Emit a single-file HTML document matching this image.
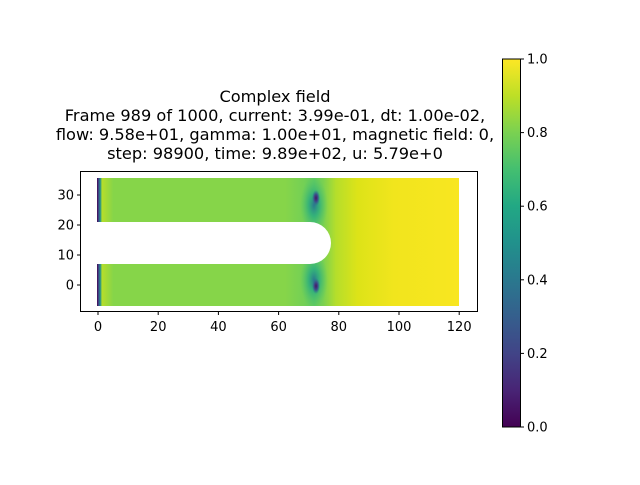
<!DOCTYPE html>
<html><head><meta charset="utf-8"><style>
body{margin:0;background:#fff}
svg text{font-family:"DejaVu Sans","Liberation Sans",sans-serif;fill:#000}
</style></head><body>
<svg width="640" height="480" viewBox="0 0 640 480">
<defs>
<linearGradient id="fieldGrad" x1="97" x2="459" y1="0" y2="0" gradientUnits="userSpaceOnUse">
<stop offset="0" stop-color="#440154"/>
<stop offset="0.005" stop-color="#3b528b"/>
<stop offset="0.009" stop-color="#21918c"/>
<stop offset="0.014" stop-color="#b5de2b"/>
<stop offset="0.028" stop-color="#a0da39"/>
<stop offset="0.045" stop-color="#86d549"/>
<stop offset="0.52" stop-color="#86d549"/>
<stop offset="0.57" stop-color="#74d055"/>
<stop offset="0.6" stop-color="#60ca60"/>
<stop offset="0.625" stop-color="#7ad151"/>
<stop offset="0.66" stop-color="#b5de2b"/>
<stop offset="0.72" stop-color="#dde318"/>
<stop offset="0.82" stop-color="#f1e51d"/>
<stop offset="1" stop-color="#f8e621"/>
</linearGradient>
<radialGradient id="halo">
<stop offset="0" stop-color="#2a788e"/>
<stop offset="0.4" stop-color="#22a884" stop-opacity="0.7"/>
<stop offset="1" stop-color="#44bf70" stop-opacity="0"/>
</radialGradient>
<radialGradient id="core">
<stop offset="0" stop-color="#471365"/>
<stop offset="0.5" stop-color="#3b528b"/>
<stop offset="1" stop-color="#2a788e" stop-opacity="0"/>
</radialGradient>
<linearGradient id="cbarGrad" x1="0" x2="0" y1="1" y2="0">
<stop offset="0" stop-color="#440154"/><stop offset="0.1" stop-color="#482475"/>
<stop offset="0.2" stop-color="#414487"/><stop offset="0.3" stop-color="#355f8d"/>
<stop offset="0.4" stop-color="#2a788e"/><stop offset="0.5" stop-color="#21918c"/>
<stop offset="0.6" stop-color="#22a884"/><stop offset="0.7" stop-color="#44bf70"/>
<stop offset="0.8" stop-color="#7ad151"/><stop offset="0.9" stop-color="#bddf26"/>
<stop offset="1" stop-color="#fde725"/>
</linearGradient>
<clipPath id="domainClip"><rect x="97" y="178" width="362" height="128"/></clipPath>
</defs>

<g text-anchor="middle">
<text x="275" y="102" font-size="16.2">Complex field</text>
<text x="275" y="121" font-size="16.2">Frame 989 of 1000, current: 3.99e-01, dt: 1.00e-02,</text>
<text x="275" y="140" font-size="16.2">flow: 9.58e+01, gamma: 1.00e+01, magnetic field: 0,</text>
<text x="275" y="159" font-size="16.2">step: 98900, time: 9.89e+02, u: 5.79e+0</text>
</g>

<g clip-path="url(#domainClip)">
<rect x="97" y="178" width="362" height="128" fill="url(#fieldGrad)"/>
<ellipse cx="314" cy="205" rx="14" ry="28" fill="url(#halo)"/>
<ellipse cx="314" cy="280" rx="14" ry="28" fill="url(#halo)"/>
<ellipse cx="316" cy="198" rx="4" ry="8" fill="url(#core)"/>
<ellipse cx="316" cy="286" rx="4" ry="8" fill="url(#core)"/>
<path d="M97 222 H310 A21 21 0 0 1 310 264 H97 Z" fill="#fff"/>
</g>

<rect x="80.5" y="171.5" width="397" height="140" fill="none" stroke="#000" stroke-width="1"/>
<g id="ticks"></g>

<rect x="502.5" y="59" width="18" height="368" fill="url(#cbarGrad)" stroke="#000" stroke-width="1"/>
<g id="cticks"></g>
</svg>
<script>
const xTicks=[0,20,40,60,80,100,120];
const yTicks=[0,10,20,30];
const cTicks=[0.0,0.2,0.4,0.6,0.8,1.0];
const NS='http://www.w3.org/2000/svg';
function sx(v){return 98+v*3.01;}
function sy(v){return 285-v*3;}
function cy(v){return 427-v*368;}
function mk(tag,attrs,parent){const e=document.createElementNS(NS,tag);for(const k in attrs)e.setAttribute(k,attrs[k]);parent.appendChild(e);return e;}
const g=document.getElementById('ticks');
xTicks.forEach(v=>{
 const l=mk('line',{x1:sx(v),x2:sx(v),y1:311.5,y2:315,stroke:'#000'},g);
 
 
 const t=mk('text',{x:sx(v),y:331,'text-anchor':'middle','font-size':'13'},g);
 t.textContent=v;
 
 
});
yTicks.forEach(v=>{
 const l=mk('line',{x1:77,x2:80.5,y1:sy(v),y2:sy(v),stroke:'#000'},g);
 
 
 const t=mk('text',{x:74,y:sy(v)+4.5,'text-anchor':'end','font-size':'13'},g);
 t.textContent=v;
 
 
});
const cg=document.getElementById('cticks');
cTicks.forEach(v=>{
 const l=mk('line',{x1:520.5,x2:524,y1:cy(v),y2:cy(v),stroke:'#000'},cg);
 
 
 const t=mk('text',{x:527,y:cy(v)+4.5,'font-size':'13'},cg);
 t.textContent=v.toFixed(1);
 
 
});
</script>
</body></html>
